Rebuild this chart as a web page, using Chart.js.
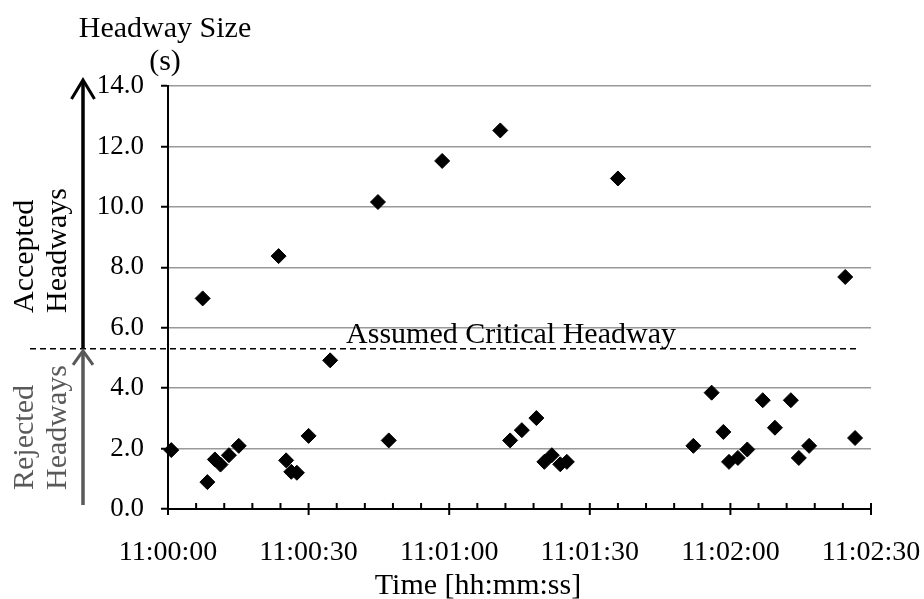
<!DOCTYPE html>
<html>
<head>
<meta charset="utf-8">
<title>Headway Size</title>
<script src="https://cdn.jsdelivr.net/npm/chart.js@4.4.1/dist/chart.umd.min.js"></script>
<style>
  html, body { margin: 0; padding: 0; background: #fff; }
</style>
</head>
<body>
<canvas id="myChart" width="924" height="599"></canvas>
<script>
'use strict';

// seconds after 11:00:00 and the headway measured at that moment
let headwayTimes = [
  0.7, 7.4, 8.4, 10.0, 11.2, 13.0, 15.1, 23.6, 25.2, 26.3,
  27.5, 30.0, 34.6, 44.8, 47.1, 58.5, 70.9, 73.0, 75.5, 78.6,
  80.3, 81.9, 83.7, 85.1, 96.0, 112.1, 116.0, 118.5, 119.7, 121.6,
  123.6, 126.9, 129.5, 132.9, 134.6, 136.8, 144.5, 146.6
];
let headwaySizes = [
  1.95, 6.97, 0.89, 1.64, 1.47, 1.78, 2.09, 8.37, 1.61, 1.23,
  1.20, 2.42, 4.92, 10.16, 2.27, 11.52, 12.53, 2.27, 2.61, 3.01,
  1.56, 1.78, 1.48, 1.56, 10.94, 2.09, 3.85, 2.55, 1.56, 1.69,
  1.97, 3.60, 2.69, 3.60, 1.69, 2.09, 7.68, 2.35
];
let xTickLabels = ['11:00:00', '11:00:30', '11:01:00', '11:01:30', '11:02:00', '11:02:30'];
let criticalHeadway = 5.3;

const serif = "'Liberation Serif', 'Times New Roman', serif";

let points = [];
for (let i = 0; i < headwayTimes.length; i++) {
  points.push({ x: headwayTimes[i], y: headwaySizes[i] });
}

// everything Chart.js has no option for: minor ticks, arrows, side labels
const decorations = {
  id: 'decorations',
  afterDraw(chart) {
    const ctx = chart.ctx;
    const xs = chart.scales.x;
    const ys = chart.scales.y;
    const yCrit = ys.getPixelForValue(criticalHeadway);
    const yTop = ys.getPixelForValue(ys.max);
    const yZero = ys.getPixelForValue(0);
    const arrowX = 83;

    ctx.save();

    // x tick marks
    ctx.strokeStyle = '#000';
    ctx.lineWidth = 2;
    xs.ticks.forEach(t => {
      const px = xs.getPixelForValue(t.value);
      ctx.beginPath();
      ctx.moveTo(px, yZero - 6);
      ctx.lineTo(px, t.value % 30 === 0 ? yZero + 6 : yZero);
      ctx.stroke();
    });

    // critical headway line
    ctx.setLineDash([6, 4]);
    ctx.lineWidth = 1.5;
    ctx.beginPath();
    ctx.moveTo(30, yCrit);
    ctx.lineTo(857, yCrit);
    ctx.stroke();
    ctx.setLineDash([]);

    // accepted arrow
    ctx.strokeStyle = '#000';
    ctx.lineWidth = 3.5;
    ctx.beginPath();
    ctx.moveTo(arrowX, yCrit);
    ctx.lineTo(arrowX, yTop - 4);
    ctx.stroke();
    ctx.lineWidth = 3;
    ctx.beginPath();
    ctx.moveTo(arrowX - 11.5, yTop + 13);
    ctx.lineTo(arrowX, yTop - 6);
    ctx.lineTo(arrowX + 11.5, yTop + 13);
    ctx.stroke();

    // rejected arrow
    ctx.strokeStyle = '#595959';
    ctx.lineWidth = 3.5;
    ctx.beginPath();
    ctx.moveTo(arrowX, yZero - 4);
    ctx.lineTo(arrowX, yCrit + 3);
    ctx.stroke();
    ctx.lineWidth = 3;
    ctx.beginPath();
    ctx.moveTo(arrowX - 10, yCrit + 16);
    ctx.lineTo(arrowX, yCrit + 2);
    ctx.lineTo(arrowX + 10, yCrit + 16);
    ctx.stroke();

    // texts
    ctx.fillStyle = '#000';
    ctx.font = '30px ' + serif;
    ctx.textAlign = 'center';
    ctx.textBaseline = 'alphabetic';
    ctx.fillText('Headway Size', 165, 37);
    ctx.fillText('(s)', 165, 70);
    ctx.fillText('Assumed Critical Headway', 511, yCrit - 6);
    ctx.fillText('Time [hh:mm:ss]', 478, 594);

    const sideLabel = (text, x, y, color) => {
      ctx.save();
      ctx.translate(x, y);
      ctx.rotate(-Math.PI / 2);
      ctx.fillStyle = color;
      ctx.textAlign = 'left';
      ctx.fillText(text, 0, 0);
      ctx.restore();
    };
    sideLabel('Accepted', 33, 313, '#000');
    sideLabel('Headways', 66, 313, '#000');
    sideLabel('Rejected', 33, 490, '#595959');
    sideLabel('Headways', 66, 490, '#595959');

    ctx.restore();
  }
};

let ctx = document.getElementById('myChart').getContext('2d');
new Chart(ctx, { // eslint-disable-line
  type: 'scatter',
  data: {
    datasets: [{
      label: 'Headway',
      data: points,
      pointStyle: 'rectRot',
      pointRadius: 7.5,
      pointBackgroundColor: '#000',
      pointBorderColor: '#000',
      pointBorderWidth: 1,
      clip: false
    }]
  },
  options: {
    responsive: false,
    animation: false,
    layout: { padding: { left: 0, right: 53, top: 86, bottom: 0 } },
    plugins: {
      legend: { display: false },
      tooltip: { enabled: false }
    },
    scales: {
      x: {
        type: 'linear',
        min: 0,
        max: 150,
        afterFit: s => {
          s.height = 90;
          s.paddingLeft = 0;
          s.paddingRight = 0;
        },
        grid: { display: false },
        border: { display: true, color: '#000', width: 2 },
        ticks: {
          stepSize: 6,
          autoSkip: false,
          maxRotation: 0,
          padding: 19,
          color: '#000',
          font: { family: serif, size: 28 },
          callback: v => (v % 30 === 0 ? xTickLabels[v / 30] : '')
        }
      },
      y: {
        min: 0,
        max: 14,
        afterFit: s => {
          s.width = 168;
          s.paddingTop = 0;
          s.paddingBottom = 0;
        },
        grid: {
          color: '#999999',
          lineWidth: 1.5,
          tickLength: 7,
          tickColor: '#000',
          tickWidth: 2
        },
        border: { display: true, color: '#000', width: 2 },
        ticks: {
          stepSize: 2,
          padding: 17,
          color: '#000',
          font: { family: serif, size: 27 },
          callback: v => v.toFixed(1)
        }
      }
    }
  },
  plugins: [decorations]
});
</script>
</body>
</html>
